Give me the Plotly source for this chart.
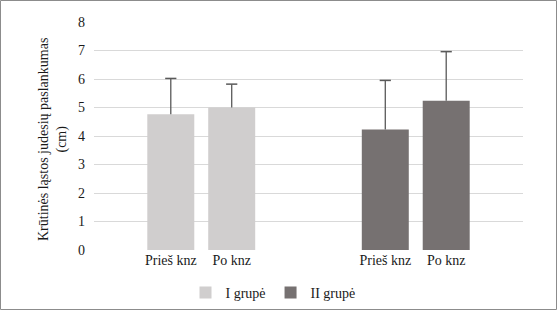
import plotly.graph_objects as go

group_names = ["I grupė", "II grupė"]
tick_labels = ["Prieš knz", "Po knz"]
group1_values = [4.76, 5.0]
group1_errors = [1.26, 0.82]
group2_values = [4.23, 5.24]
group2_errors = [1.72, 1.72]
y_ticks = [0, 1, 2, 3, 4, 5, 6, 7, 8]

# layout positions (numeric x axis)
group1_x = [-0.142, 0.142]
group2_x = [0.858, 1.142]

colors = ["#d0cece", "#767171"]
FONT = "'Times New Roman', 'Liberation Serif', 'DejaVu Serif', serif"

fig = go.Figure()
for name, xs, vals, errs, col in [
    (group_names[0], group1_x, group1_values, group1_errors, colors[0]),
    (group_names[1], group2_x, group2_values, group2_errors, colors[1]),
]:
    fig.add_trace(go.Bar(
        x=xs, y=vals, name=name, width=0.219,
        marker=dict(color=col, line=dict(width=0)),
    ))

# plus-direction error bars
for xs, vals, errs in [(group1_x, group1_values, group1_errors),
                       (group2_x, group2_values, group2_errors)]:
    lx, ly = [], []
    for x, v, e in zip(xs, vals, errs):
        lx += [x, x, None]
        ly += [v, v + e, None]
    fig.add_trace(go.Scatter(x=lx, y=ly, mode="lines", showlegend=False,
                             line=dict(color="#595959", width=1.3),
                             hoverinfo="skip"))
    fig.add_trace(go.Scatter(x=xs, y=[v + e for v, e in zip(vals, errs)],
                             mode="markers", showlegend=False,
                             marker=dict(symbol="line-ew", size=8,
                                         line=dict(color="#595959", width=1.5)),
                             hoverinfo="skip"))

W, H = 557, 310
ml, mr, mt, mb = 94, 34, 22, 60
pw, ph = W - ml - mr, H - mt - mb

fig.update_layout(
    width=W, height=H,
    margin=dict(l=ml, r=mr, t=mt, b=mb, autoexpand=False),
    paper_bgcolor="white", plot_bgcolor="white",
    font=dict(family=FONT, size=14, color="#1a1a1a"),
    barmode="overlay",
    showlegend=True,
    legend=dict(orientation="h", x=(273 - ml) / pw, xanchor="center",
                y=(250 - 293) / ph, yanchor="middle",
                font=dict(family=FONT, size=14), itemwidth=30, traceorder="normal"),
    xaxis=dict(range=[-0.5, 1.5], tickvals=group1_x + group2_x,
               ticktext=tick_labels + tick_labels, showgrid=False,
               zeroline=False, showline=False, ticks="", ticklen=0,
               tickfont=dict(family=FONT, size=14)),
    yaxis=dict(range=[0, 8], tickvals=y_ticks, showgrid=True,
               gridcolor="#d9d9d9", gridwidth=1, zeroline=False,
               showline=False, ticks="", ticklabelstandoff=8,
               tickfont=dict(family=FONT, size=14)),
    annotations=[dict(text="Krūtinės ląstos judesių paslankumas<br>(cm)",
                      xref="paper", yref="paper", x=(53 - ml) / pw, y=(250 - 140) / ph,
                      xanchor="center", yanchor="middle", textangle=-90,
                      showarrow=False, font=dict(family=FONT, size=14))],
    shapes=[dict(type="rect", xref="paper", yref="paper",
                 x0=-ml / pw + 0.5 / pw, x1=1 + (mr - 0.5) / pw,
                 y0=-(mb - 0.5) / ph, y1=1 + (mt - 0.5) / ph,
                 line=dict(color="#8c8c8c", width=1), layer="below")],
)

fig.write_html("out.html")
